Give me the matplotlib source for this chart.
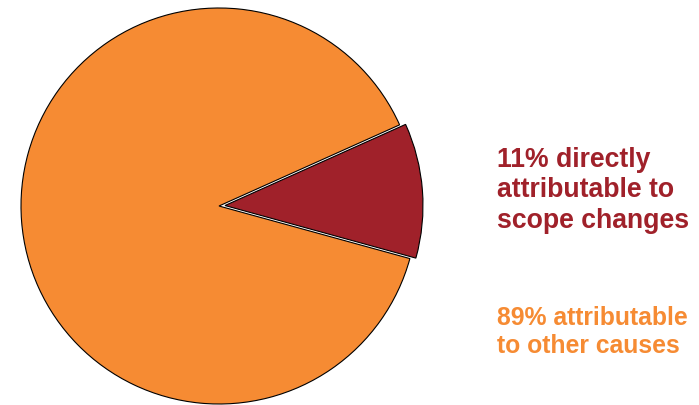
import matplotlib
matplotlib.use('Agg')
import matplotlib.pyplot as plt

plt.rcParams['font.family'] = ['Liberation Sans', 'DejaVu Sans']

# shares of the cost increase
labels = ['Scope changes', 'Other causes']
shares = [11, 89]
colors = ['#A0212A', '#F68B33']
# pie is drawn in pixel-like data units, so explode is an offset in px
explode = [6, 0]

red_lines = ['11% directly', 'attributable to', 'scope changes']
orange_lines = ['89% attributable', 'to other causes']

fig = plt.figure(figsize=(6.99, 4.05), dpi=100)
ax = fig.add_axes([0, 0, 1, 1])
ax.pie(shares, colors=colors, explode=explode, startangle=-15.4,
       counterclock=True, center=(219, 199), radius=198, frame=False,
       wedgeprops=dict(edgecolor='black', linewidth=0.8))
ax.set_xlim(0, 699)
ax.set_ylim(0, 405)
ax.set_aspect('equal')
ax.axis('off')

# annotation text at the right
for i, line in enumerate(red_lines):
    fig.text(497 / 699, 1 - (167 + i * 30.5) / 405, line, color=colors[0],
             fontsize=19.2, fontweight='bold', ha='left', va='baseline')
for i, line in enumerate(orange_lines):
    fig.text(497 / 699, 1 - (325 + i * 28) / 405, line, color=colors[1],
             fontsize=17.8, fontweight='bold', ha='left', va='baseline')

fig.savefig('out.png', dpi=100)
